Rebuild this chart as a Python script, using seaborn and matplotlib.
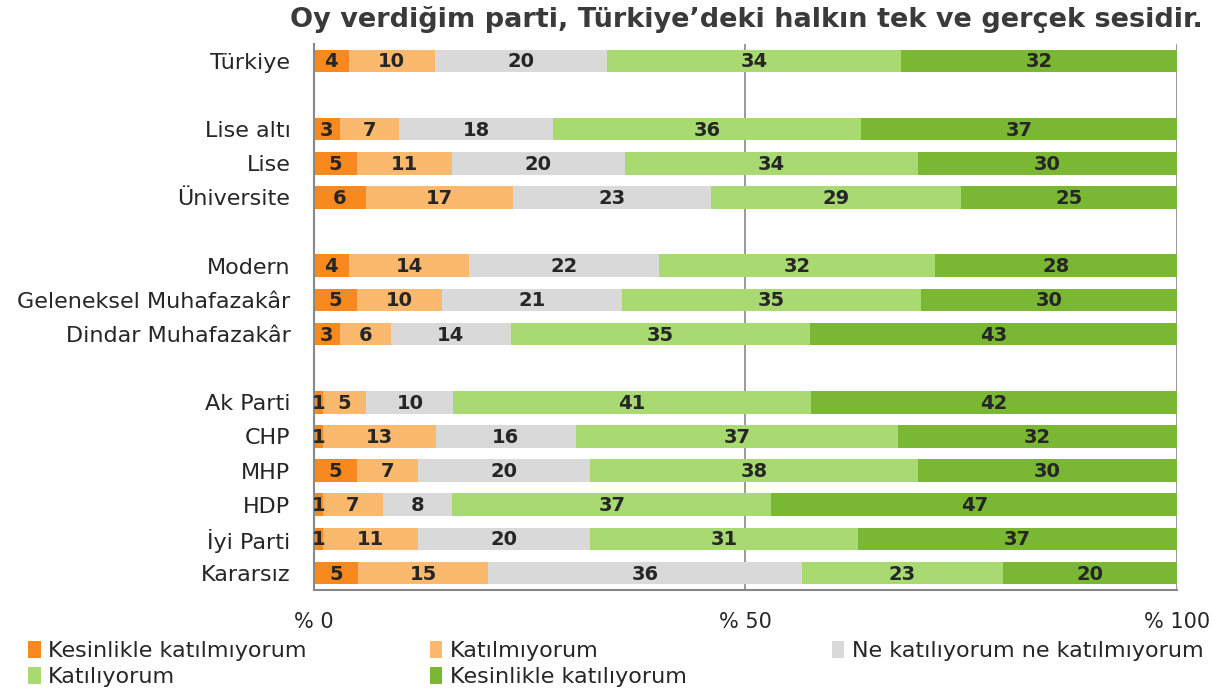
import numpy as np
import pandas as pd
import matplotlib
matplotlib.use("Agg")
import matplotlib.pyplot as plt
import seaborn as sns
from matplotlib.patches import Patch

# categories (with blank spacer rows between groups)
groups = ["Türkiye", " ",
          "Lise altı", "Lise", "Üniversite", "  ",
          "Modern", "Geleneksel Muhafazakâr", "Dindar Muhafazakâr", "   ",
          "Ak Parti", "CHP", "MHP", "HDP", "İyi Parti", "Kararsız"]
rows = ["Türkiye", "Lise altı", "Lise", "Üniversite",
        "Modern", "Geleneksel Muhafazakâr", "Dindar Muhafazakâr",
        "Ak Parti", "CHP", "MHP", "HDP", "İyi Parti", "Kararsız"]

levels = ["Kesinlikle katılmıyorum", "Katılmıyorum",
          "Ne katılıyorum ne katılmıyorum", "Katılıyorum",
          "Kesinlikle katılıyorum"]

kesinlikle_katilmiyorum = [4, 3, 5, 6, 4, 5, 3, 1, 1, 5, 1, 1, 5]
katilmiyorum = [10, 7, 11, 17, 14, 10, 6, 5, 13, 7, 7, 11, 15]
ne_ne = [20, 18, 20, 23, 22, 21, 14, 10, 16, 20, 8, 20, 36]
katiliyorum = [34, 36, 34, 29, 32, 35, 35, 41, 37, 38, 37, 31, 23]
kesinlikle_katiliyorum = [32, 37, 30, 25, 28, 30, 43, 42, 32, 30, 47, 37, 20]

colors = ["#F7891E", "#FBB96D", "#D9D9D9", "#A9DA72", "#7AB733"]

sns.set_theme(style="white")
plt.rcParams["font.family"] = ["DejaVu Sans"]

df = pd.DataFrame({"grup": rows,
                   levels[0]: kesinlikle_katilmiyorum,
                   levels[1]: katilmiyorum,
                   levels[2]: ne_ne,
                   levels[3]: katiliyorum,
                   levels[4]: kesinlikle_katiliyorum})
vals = df[levels].to_numpy(dtype=float)
shares = vals / vals.sum(axis=1, keepdims=True) * 100
cum = np.cumsum(shares, axis=1)

fig = plt.figure(figsize=(12.31, 6.95), dpi=100)
ax = fig.add_axes([0.2551, 0.151, 0.701, 0.786])

# draw from the longest cumulative bar back to the first segment
for k in range(len(levels) - 1, -1, -1):
    d = pd.DataFrame({"grup": rows, "v": cum[:, k]})
    sns.barplot(data=d, y="grup", x="v", order=groups, color=colors[k],
                saturation=1, width=0.66, orient="h", ax=ax, zorder=2,
                linewidth=0, edgecolor="none")

pos = {g: i for i, g in enumerate(groups)}
for i, g in enumerate(rows):
    left = 0
    for k in range(len(levels)):
        w = shares[i, k]
        ax.text(left + w / 2, pos[g] + 0.03, f"{int(vals[i, k])}", ha="center",
                va="center", fontsize=14, fontweight="bold", color="#262626",
                zorder=3)
        left += w

ax.set_xlim(0, 100)
ax.set_ylim(len(groups) - 0.5, -0.5)
ax.set_xticks([0, 50, 100])
ax.set_xticklabels(["% 0", "% 50", "% 100"], fontsize=15, color="#262626")
ax.set_xlabel("")
ax.set_ylabel("")
ax.tick_params(axis="y", which="major", length=0, pad=17, labelsize=16,
               labelcolor="#262626")
ax.set_yticks(np.arange(len(groups)) - 0.5, minor=True)
ax.tick_params(axis="y", which="minor", length=7, color="#888888", width=1.2,
               direction="out")
ax.tick_params(axis="x", which="major", length=8, color="#888888", width=1.2,
               direction="out", pad=8)
ax.grid(False)
ax.axvline(50, color="#888888", lw=1.2, zorder=1)
ax.axvline(100, color="#888888", lw=1.2, zorder=1)
for s in ["top", "right"]:
    ax.spines[s].set_visible(False)
for s in ["left", "bottom"]:
    ax.spines[s].set_color("#888888")
    ax.spines[s].set_linewidth(1.5)

fig.text(0.606, 0.972, "Oy verdiğim parti, Türkiye’deki halkın tek ve gerçek sesidir.",
         ha="center", va="center", fontsize=19.5, fontweight="bold",
         color="#3a3a3a")

# legend: three columns placed like the reference
handles = [Patch(facecolor=c, edgecolor="none") for c in colors]
columns = [([0, 3], 0.023), ([1, 4], 0.349), ([2], 0.676)]
for idx, x0 in columns:
    leg = fig.legend([handles[i] for i in idx], [levels[i] for i in idx],
                     loc="upper left", bbox_to_anchor=(x0, 0.078), ncol=1,
                     frameon=False, handlelength=0.55, handleheight=0.8,
                     handletextpad=0.35, labelspacing=0.25, borderpad=0,
                     borderaxespad=0, prop={"size": 16})
    for t in leg.get_texts():
        t.set_color("#262626")

fig.savefig("out.png", dpi=100)
